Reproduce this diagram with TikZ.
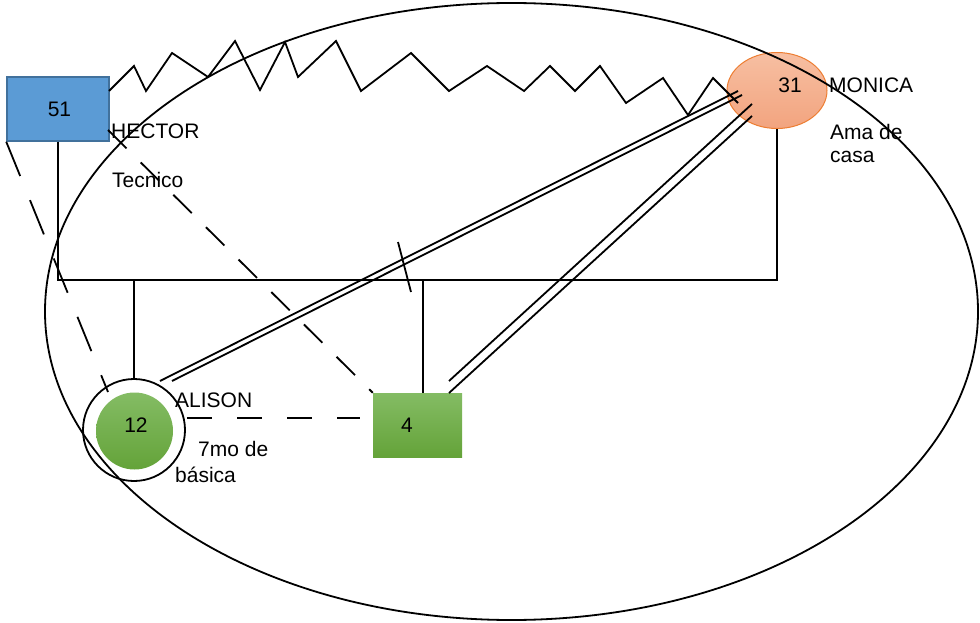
\documentclass[tikz,border=0pt]{standalone}
\usepackage{fontspec}
\setmainfont{Liberation Sans}
\usetikzlibrary{calc,shapes.geometric}
\definecolor{blueF}{HTML}{5B9BD5}
\definecolor{blueD}{HTML}{41719C}
\definecolor{salmonT}{HTML}{F7BFA2}
\definecolor{salmonB}{HTML}{F2A47F}
\definecolor{orangeD}{HTML}{ED7D31}
\definecolor{greenT}{HTML}{84BC64}
\definecolor{greenB}{HTML}{64A339}
\begin{document}
\begin{tikzpicture}[x=1pt,y=-1pt,
  ln/.style={line width=1.8pt, black, line join=miter},
  txt/.style={inner sep=0pt, font=\fontsize{21}{25}\selectfont},
  lab/.style={txt, anchor=base west},
  num/.style={txt, anchor=base},
  dashA/.style={ln, dash pattern=on 37pt off 26pt},
  dashB/.style={ln, dash pattern=on 26pt off 20pt},
  dashC/.style={ln, dash pattern=on 25pt off 25pt},
  greenfill/.style={top color=greenT, bottom color=greenB, draw=none}]
\useasboundingbox (0,0) rectangle (980,623);

% nodes
\node[draw=blueD, fill=blueF, line width=1.5pt, minimum width=102pt, minimum height=64pt, inner sep=0pt] (h) at (58,109) {};
\node[ellipse, draw=orangeD, line width=1pt, top color=salmonT, bottom color=salmonB, minimum width=100pt, minimum height=76pt, inner sep=0pt] (m) at (777,90.5) {};
\node[circle, greenfill, minimum size=77pt, inner sep=0pt] (ali) at (134.5,431) {};
\node[circle, draw, line width=1.8pt, minimum size=102pt, inner sep=0pt] (al) at (134,430) {};
\node[greenfill, minimum width=89pt, minimum height=64pt, inner sep=0pt] (n4) at (417.5,425) {};

% big ellipse
\draw[ln] (511.5,311.5) ellipse [x radius=466.5, y radius=308.5];

% family lines
\coordinate (famL) at (h.south |- 0,280);
\coordinate (famR) at (m.south |- 0,280);
\coordinate (famA) at (al.north |- 0,280);
\coordinate (fam4) at (423,280);
\draw[ln] (h.south) -- (famL) -- (famR) -- (m.south);
\draw[ln] (famA) -- (al.north);
\draw[ln] (fam4) -- (fam4 |- n4.north);

% separation tick
\coordinate (tk1) at (398,242);
\coordinate (tk2) at (411,292);
\draw[ln] (tk1) -- (tk2);

% double lines Monica - Alison
\coordinate (ma1) at (160,381);
\coordinate (ma2) at (738,91);
\coordinate (ma3) at (172,381);
\coordinate (ma4) at (742,95);
\draw[ln] (ma1) -- (ma2);
\draw[ln] (ma3) -- (ma4);
% double lines Monica - 4
\coordinate (m41) at (449,381);
\coordinate (m42) at (752,104);
\coordinate (m43) at (449,393);
\coordinate (m44) at (752,116);
\draw[ln] (m41) -- (m42);
\draw[ln] (m43) -- (m44);

% dashed lines
\coordinate (alend) at (108,392);
\draw[dashA] (h.south west) -- (alend);
\coordinate (hst) at (108,130);
\draw[dashB] (hst) -- (n4.north west);
\coordinate (a4s) at (187,418);
\coordinate (a4e) at (360,418);
\draw[dashC] (a4s) -- (a4e);

% zigzag (conflict) Hector - Monica
\coordinate (zz0) at (109,91);
\coordinate (zzend) at (738,103);
\draw[ln] (zz0) -- (134,66) -- (146,91) -- (172,53) -- (208,77) -- (235,41) -- (260,90) -- (285,42) -- (298,77)
  -- (336,41) -- (361,91) -- (411,53) -- (449,91) -- (487,66) -- (524,91) -- (550,66) -- (575,91) -- (600,66)
  -- (626,103) -- (663,78) -- (688,115) -- (713,78) -- (zzend);

% texts
\node[num] (t51) at (59.5,117) {51};
\node[num] (t31) at (790,93) {31};
\node[num] (t12) at (136,432) {12};
\node[num] (t4) at (407,432) {4};
\node[lab] (thector) at (111,139) {HECTOR};
\node[lab] (ttec) at (112,187) {Tecnico};
\node[lab] (tmon) at (829,93) {MONICA};
\node[lab] (tama) at (830,140) {Ama de};
\node[lab] (tcasa) at (830,163) {casa};
\node[lab] (talison) at (175,407) {ALISON};
\node[lab] (t7mo) at (198,456) {7mo de};
\node[lab] (tbas) at (175,482) {básica};
\end{tikzpicture}
\end{document}
